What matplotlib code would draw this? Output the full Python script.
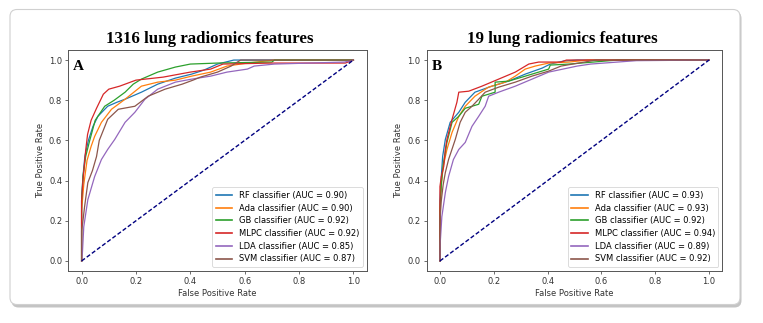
import matplotlib
matplotlib.use("Agg")
import matplotlib.pyplot as plt
from matplotlib.patches import FancyBboxPatch

# ---------------- data ----------------
titles = ["1316 lung radiomics features", "19 lung radiomics features"]
panel_letters = ["A", "B"]
classifiers = ["RF", "Ada", "GB", "MLPC", "LDA", "SVM"]
auc_a = [0.90, 0.90, 0.92, 0.92, 0.85, 0.87]
auc_b = [0.93, 0.93, 0.92, 0.94, 0.89, 0.92]
ticks = [0.0, 0.2, 0.4, 0.6, 0.8, 1.0]

# Panel A curves
a_rf_fpr = [0, 0, 0.005, 0.012, 0.025, 0.042, 0.06, 0.096, 0.13, 0.16, 0.22, 0.28, 0.345, 0.405, 0.45, 0.5, 0.56, 1.0]
a_rf_tpr = [0, 0.3, 0.42, 0.52, 0.6, 0.67, 0.72, 0.77, 0.79, 0.805, 0.84, 0.88, 0.91, 0.93, 0.95, 0.98, 1.0, 1.0]
a_ada_fpr = [0, 0, 0.008, 0.02, 0.035, 0.048, 0.073, 0.11, 0.16, 0.22, 0.28, 0.345, 0.405, 0.475, 0.535, 0.61, 0.71, 1.0]
a_ada_tpr = [0, 0.25, 0.38, 0.5, 0.57, 0.62, 0.69, 0.755, 0.805, 0.87, 0.89, 0.9, 0.92, 0.94, 0.97, 0.985, 1.0, 1.0]
a_gb_fpr = [0, 0, 0.005, 0.015, 0.03, 0.05, 0.085, 0.12, 0.16, 0.19, 0.22, 0.28, 0.345, 0.4, 0.5, 0.7, 0.71, 1.0]
a_gb_tpr = [0, 0.3, 0.42, 0.52, 0.6, 0.7, 0.77, 0.8, 0.84, 0.88, 0.905, 0.94, 0.965, 0.98, 0.985, 0.99, 1.0, 1.0]
a_mlpc_fpr = [0, 0, 0.005, 0.015, 0.022, 0.035, 0.055, 0.08, 0.1, 0.14, 0.2, 0.3, 0.4, 0.475, 0.52, 0.7, 0.97, 1.0]
a_mlpc_tpr = [0, 0.3, 0.4, 0.55, 0.63, 0.7, 0.76, 0.83, 0.855, 0.87, 0.9, 0.915, 0.94, 0.955, 0.98, 0.985, 0.985, 1.0]
a_lda_fpr = [0, 0.003, 0.008, 0.023, 0.048, 0.073, 0.096, 0.122, 0.16, 0.196, 0.233, 0.28, 0.345, 0.405, 0.475, 0.535, 0.61, 0.635, 0.71, 0.967, 1.0]
a_lda_tpr = [0, 0.04, 0.17, 0.305, 0.42, 0.505, 0.555, 0.605, 0.69, 0.74, 0.805, 0.855, 0.89, 0.905, 0.92, 0.94, 0.955, 0.97, 0.98, 0.99, 1.0]
a_svm_fpr = [0, 0, 0.005, 0.011, 0.023, 0.04, 0.055, 0.065, 0.096, 0.135, 0.196, 0.245, 0.307, 0.37, 0.41, 0.437, 0.5, 0.55, 0.585, 1.0]
a_svm_tpr = [0, 0.15, 0.2, 0.27, 0.39, 0.45, 0.52, 0.6, 0.705, 0.755, 0.77, 0.82, 0.855, 0.88, 0.9, 0.915, 0.94, 0.97, 1.0, 1.0]

# Panel B curves
b_rf_fpr = [0, 0, 0.005, 0.01, 0.02, 0.038, 0.07, 0.094, 0.13, 0.193, 0.255, 0.317, 0.38, 0.41, 0.46, 0.51, 1.0]
b_rf_tpr = [0, 0.3, 0.42, 0.52, 0.605, 0.69, 0.74, 0.79, 0.84, 0.87, 0.895, 0.93, 0.96, 0.98, 0.995, 1.0, 1.0]
b_ada_fpr = [0, 0, 0.005, 0.012, 0.026, 0.045, 0.07, 0.094, 0.13, 0.18, 0.243, 0.28, 0.317, 0.354, 0.404, 0.48, 0.55, 1.0]
b_ada_tpr = [0, 0.25, 0.38, 0.47, 0.555, 0.64, 0.72, 0.77, 0.82, 0.865, 0.89, 0.92, 0.955, 0.97, 0.985, 0.99, 1.0, 1.0]
b_gb_fpr = [0, 0, 0.005, 0.012, 0.026, 0.045, 0.07, 0.094, 0.144, 0.156, 0.205, 0.205, 0.255, 0.305, 0.367, 0.404, 0.41, 0.48, 0.57, 0.66, 1.0]
b_gb_tpr = [0, 0.25, 0.38, 0.48, 0.59, 0.69, 0.72, 0.76, 0.78, 0.82, 0.84, 0.89, 0.895, 0.915, 0.94, 0.955, 0.975, 0.98, 0.99, 1.0, 1.0]
b_mlpc_fpr = [0, 0, 0.005, 0.014, 0.02, 0.026, 0.045, 0.063, 0.07, 0.107, 0.156, 0.218, 0.28, 0.33, 0.367, 0.45, 0.47, 1.0]
b_mlpc_tpr = [0, 0.37, 0.42, 0.47, 0.555, 0.605, 0.705, 0.79, 0.84, 0.845, 0.87, 0.905, 0.94, 0.98, 0.99, 0.99, 1.0, 1.0]
b_lda_fpr = [0, 0.001, 0.007, 0.02, 0.032, 0.05, 0.07, 0.094, 0.119, 0.144, 0.168, 0.181, 0.218, 0.28, 0.342, 0.404, 0.457, 0.51, 0.56, 0.66, 0.73, 1.0]
b_lda_tpr = [0, 0.09, 0.22, 0.34, 0.42, 0.505, 0.555, 0.59, 0.67, 0.72, 0.77, 0.82, 0.84, 0.87, 0.905, 0.94, 0.955, 0.97, 0.98, 0.99, 0.997, 1.0]
b_svm_fpr = [0, 0, 0.005, 0.012, 0.02, 0.032, 0.057, 0.075, 0.094, 0.119, 0.144, 0.168, 0.218, 0.28, 0.342, 0.404, 0.45, 0.58, 1.0]
b_svm_tpr = [0, 0.2, 0.3, 0.38, 0.44, 0.505, 0.605, 0.69, 0.74, 0.77, 0.805, 0.84, 0.865, 0.89, 0.92, 0.945, 0.97, 1.0, 1.0]

colors = ["#1f77b4", "#ff7f0e", "#2ca02c", "#d62728", "#9467bd", "#8c564b"]

panels = [
    dict(curves=[(a_rf_fpr, a_rf_tpr), (a_ada_fpr, a_ada_tpr), (a_gb_fpr, a_gb_tpr),
                 (a_mlpc_fpr, a_mlpc_tpr), (a_lda_fpr, a_lda_tpr), (a_svm_fpr, a_svm_tpr)],
         aucs=auc_a),
    dict(curves=[(b_rf_fpr, b_rf_tpr), (b_ada_fpr, b_ada_tpr), (b_gb_fpr, b_gb_tpr),
                 (b_mlpc_fpr, b_mlpc_tpr), (b_lda_fpr, b_lda_tpr), (b_svm_fpr, b_svm_tpr)],
         aucs=auc_b),
]

# ---------------- figure ----------------
W, H = 763, 323
fig = plt.figure(figsize=(W / 100, H / 100), dpi=100)

# outer rounded frame with shadow
shadow = FancyBboxPatch((0.115, 0.155), 7.30, 2.96, boxstyle="round,pad=0,rounding_size=0.07",
                        transform=fig.dpi_scale_trans, facecolor="#c4c4c4", edgecolor="none", zorder=0)
frame = FancyBboxPatch((0.10, 0.185), 7.30, 2.95, boxstyle="round,pad=0,rounding_size=0.07",
                       transform=fig.dpi_scale_trans, facecolor="white", edgecolor="#d0d0d0",
                       linewidth=0.8, zorder=0.5)
fig.patches.extend([shadow, frame])

# axes positions in pixels: (left, right, top, bottom)
ax_px = [(68, 367, 50, 271), (426.5, 722.5, 50, 271)]
title_cx = [210, 562]
fs = 6.0
spine_col = "#555555"

for i, (l, r, t, b) in enumerate(ax_px):
    ax = fig.add_axes([l / W, (H - b) / H, (r - l) / W, (b - t) / H])
    ax.set_zorder(2)
    p = panels[i]
    for (fx, ty), name, auc, c in zip(p["curves"], classifiers, p["aucs"], colors):
        ax.plot(fx, ty, color=c, lw=0.9, label=f"{name} classifier (AUC = {auc:.2f})")
    ax.plot([0, 1], [0, 1], color="navy", lw=1.0, linestyle="--", dashes=(3, 1.6))
    ax.set_xlim(-0.05, 1.05)
    ax.set_ylim(-0.05, 1.05)
    ax.set_xticks(ticks)
    ax.set_yticks(ticks)
    ax.tick_params(labelsize=fs, length=2.2, width=0.5, colors="#333333", pad=2)
    for s in ax.spines.values():
        s.set_color(spine_col)
        s.set_linewidth(0.7)
    ax.set_xlabel("False Positive Rate", fontsize=fs, color="#333333", labelpad=2)
    ax.set_ylabel("True Positive Rate", fontsize=fs, color="#333333", labelpad=3)
    leg = ax.legend(loc="lower right", fontsize=fs, frameon=True, handlelength=2.0,
                    borderaxespad=0.5, labelspacing=0.45, handletextpad=0.8)
    for ln in leg.get_lines():
        ln.set_linewidth(1.2)
    leg.get_frame().set_edgecolor("#cccccc")
    leg.get_frame().set_linewidth(0.6)
    ax.text(0.017, 0.955, panel_letters[i], transform=ax.transAxes, ha="left", va="top",
            fontsize=11, fontweight="bold", family="Liberation Serif")
    fig.text(title_cx[i] / W, (H - 43.3) / H, titles[i], ha="center", va="baseline",
             fontsize=12.2, fontweight="bold", family="Liberation Serif")

fig.savefig("out.png", dpi=100)
